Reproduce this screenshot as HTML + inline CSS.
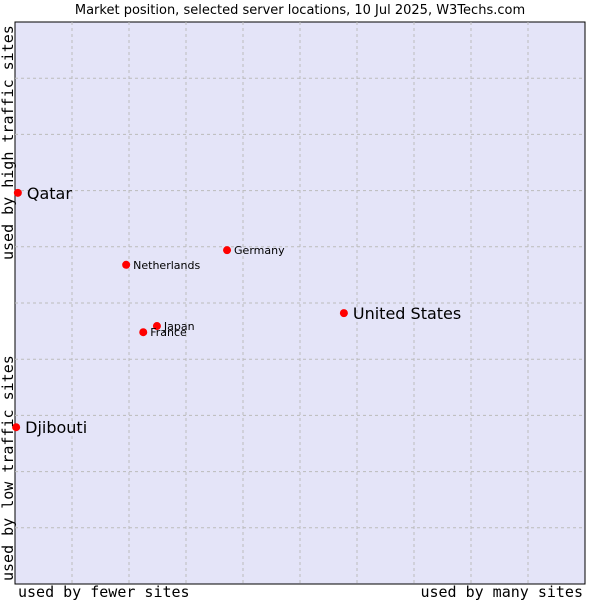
<!DOCTYPE html>
<html><head><meta charset="utf-8"><style>
body{margin:0;background:#fff;width:600px;height:600px;overflow:hidden}
svg{display:block}
</style></head><body>
<svg id="chart" width="600" height="600" font-family="'DejaVu Sans', 'Liberation Sans', sans-serif">
<text x="300" y="14" text-anchor="middle" font-size="13" fill="#000">Market position, selected server locations, 10 Jul 2025, W3Techs.com</text>
<rect x="15" y="22" width="570" height="562" fill="#e4e4f8" stroke="#000" stroke-width="1"/>
<g id="grid"></g>
<g id="points"></g>
<text x="18" y="597" font-family="'DejaVu Sans Mono','Liberation Mono',monospace" font-size="15">used by fewer sites</text>
<text x="583" y="597" text-anchor="end" font-family="'DejaVu Sans Mono','Liberation Mono',monospace" font-size="15">used by many sites</text>
<text transform="translate(13,581) rotate(-90)" font-family="'DejaVu Sans Mono','Liberation Mono',monospace" font-size="15">used by low traffic sites</text>
<text transform="translate(13,260) rotate(-90)" font-family="'DejaVu Sans Mono','Liberation Mono',monospace" font-size="15">used by high traffic sites</text>
</svg>
<script>
const names=["Qatar","Djibouti","United States","Germany","Netherlands","Japan","France"];
const xVals=[0.5,0.2,57.7,37.2,19.5,24.9,22.5];
const yVals=[69.6,27.9,48.2,59.4,56.8,45.9,44.8];
const bigLabel=[true,true,true,false,false,false,false];
const NS="http://www.w3.org/2000/svg";
const L=15,R=585,T=22,B=584;
const sx=v=>L+(R-L)*v/100, sy=v=>B-(B-T)*v/100;
const grid=document.getElementById('grid');
for(let i=1;i<10;i++){
  const v=document.createElementNS(NS,'line');
  v.setAttribute('x1',sx(i*10));v.setAttribute('x2',sx(i*10));v.setAttribute('y1',T);v.setAttribute('y2',B);
  v.setAttribute('stroke','#bbbbbb');v.setAttribute('stroke-dasharray','3,3');
  
  
  grid.appendChild(v);
  const h=document.createElementNS(NS,'line');
  h.setAttribute('y1',sy(i*10));h.setAttribute('y2',sy(i*10));h.setAttribute('x1',L);h.setAttribute('x2',R);
  h.setAttribute('stroke','#bbbbbb');h.setAttribute('stroke-dasharray','3,3');
  
  
  grid.appendChild(h);
}
const pts=document.getElementById('points');
names.forEach((n,i)=>{
  const x=sx(xVals[i]),y=sy(yVals[i]);
  const c=document.createElementNS(NS,'circle');
  c.setAttribute('cx',x);c.setAttribute('cy',y);c.setAttribute('r',4);c.setAttribute('fill','#ff0000');
  
  
  pts.appendChild(c);
  const t=document.createElementNS(NS,'text');
  t.setAttribute('x',x+(bigLabel[i]?9:7));t.setAttribute('y',y+(bigLabel[i]?6:4));
  t.setAttribute('font-size',bigLabel[i]?16:11);t.setAttribute('fill','#000');
  t.textContent=n;
  
  
  pts.appendChild(t);
});
</script>
</body></html>
